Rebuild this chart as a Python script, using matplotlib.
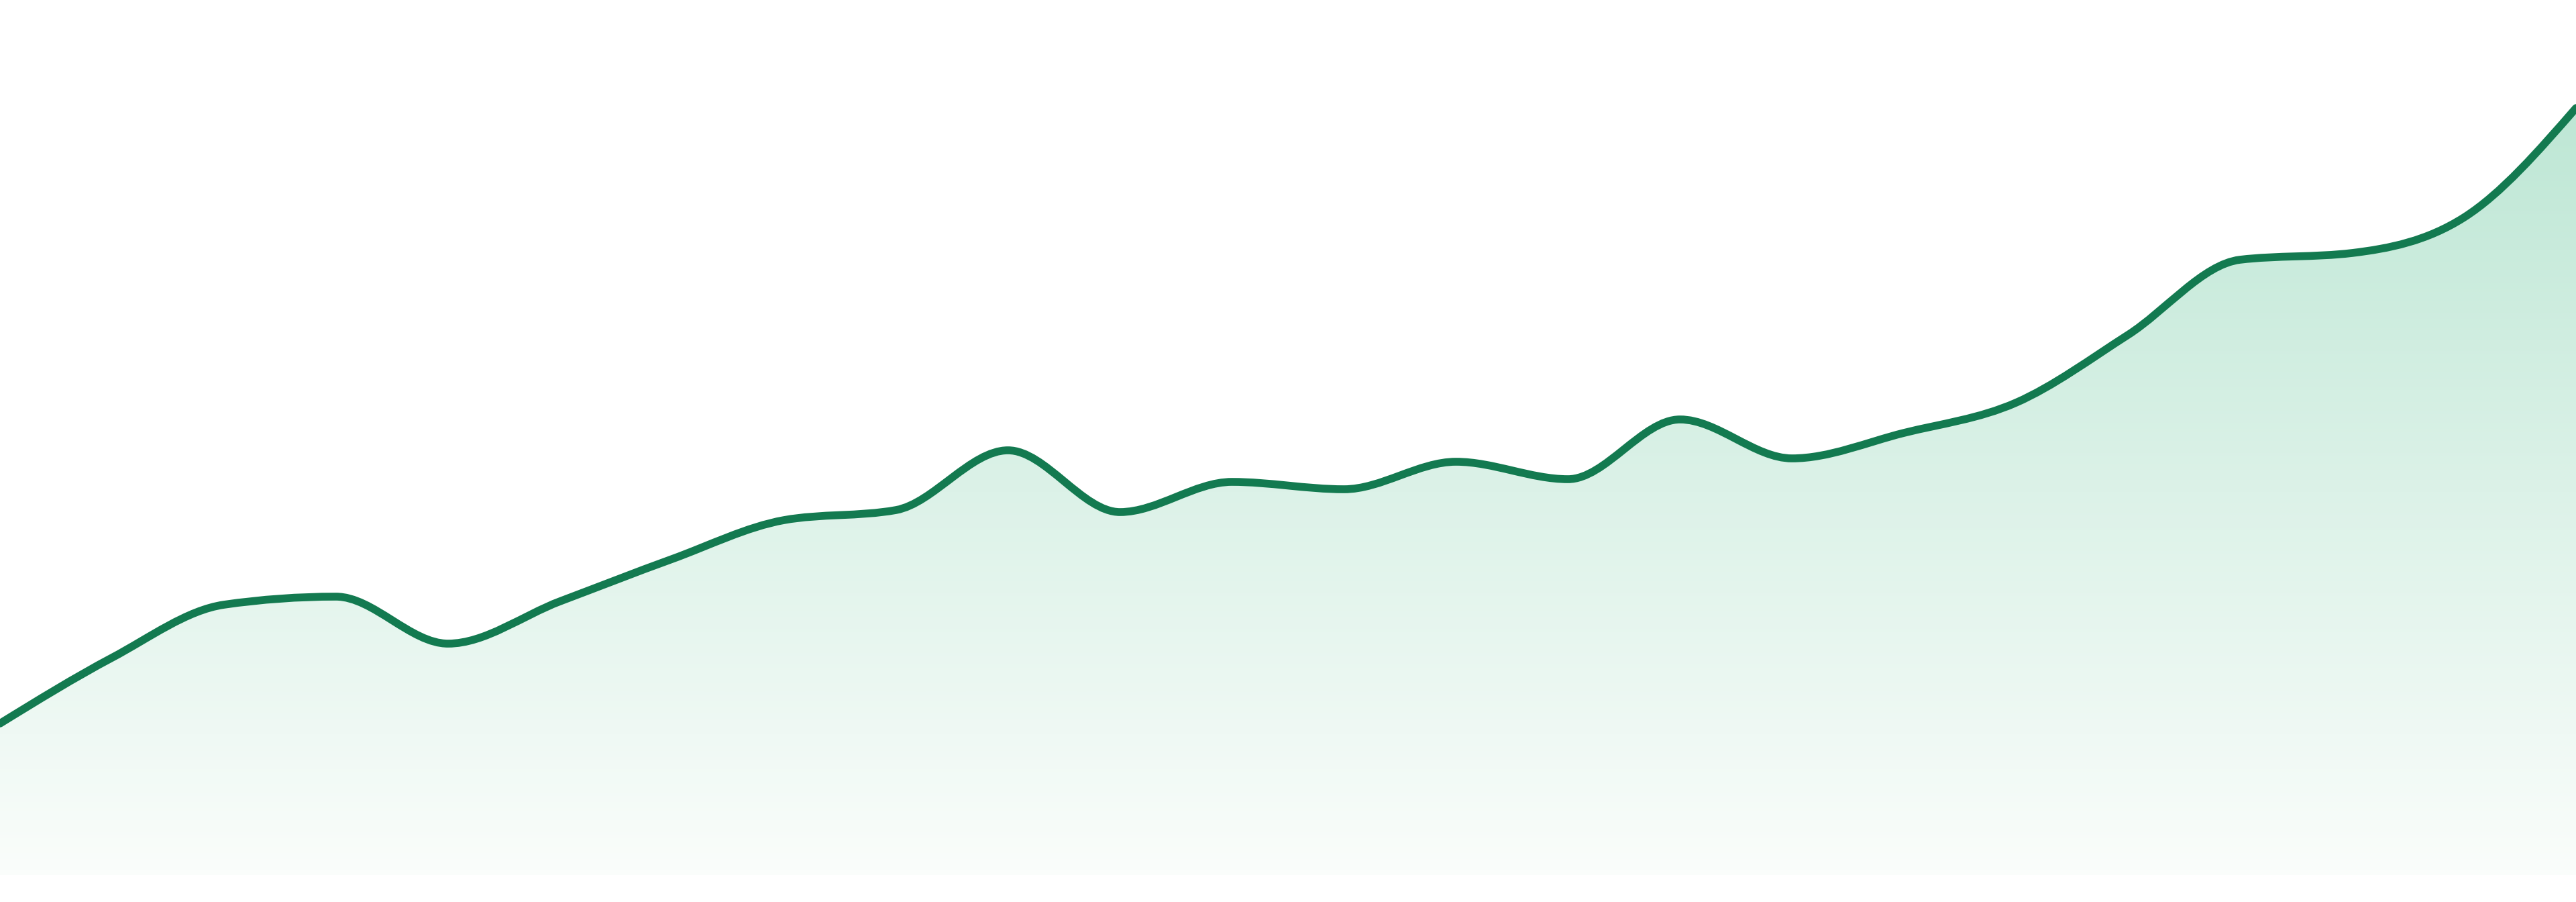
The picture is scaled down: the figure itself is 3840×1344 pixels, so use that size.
import numpy as np
import matplotlib
matplotlib.use("Agg")
from matplotlib import pyplot as plt
from matplotlib.path import Path
from matplotlib.patches import PathPatch
from matplotlib.colors import LinearSegmentedColormap

# values (one per step, 24 steps)
steps = list(range(24))
values = [226, 324, 403, 415, 345, 408, 471, 529, 544, 633, 541, 586,
          575, 616, 590, 679, 621, 659, 704, 805, 917, 927, 980, 1143]

line_color = "#137a50"
fill_top = "#bee7d5"
fill_bottom = "#fafdfb"


def monotone_path(x, y, close_to=None):
	# cubic bezier path like d3 curveMonotoneX
	x = np.asarray(x, float)
	y = np.asarray(y, float)
	n = len(x)
	h = np.diff(x)
	s = np.diff(y) / h
	t = np.zeros(n)
	for i in range(1, n - 1):
		p = (s[i - 1] * h[i] + s[i] * h[i - 1]) / (h[i - 1] + h[i])
		t[i] = (np.sign(s[i - 1]) + np.sign(s[i])) * min(abs(s[i - 1]), abs(s[i]), 0.5 * abs(p))
	t[0] = (3 * s[0] - t[1]) / 2
	t[-1] = (3 * s[-1] - t[-2]) / 2
	verts = [(x[0], y[0])]
	codes = [Path.MOVETO]
	for i in range(n - 1):
		dx = h[i] / 3
		verts += [(x[i] + dx, y[i] + dx * t[i]), (x[i + 1] - dx, y[i + 1] - dx * t[i + 1]), (x[i + 1], y[i + 1])]
		codes += [Path.CURVE4] * 3
	if close_to is not None:
		verts += [(x[-1], close_to), (x[0], close_to), (x[0], y[0])]
		codes += [Path.LINETO, Path.LINETO, Path.CLOSEPOLY]
	return Path(verts, codes)


fig = plt.figure(figsize=(38.4, 13.44), dpi=100)
ax = fig.add_axes([0, 40 / 1344, 1, 1304 / 1344])
ax.set_xlim(steps[0], steps[-1])
ax.set_ylim(0, 1304)
ax.axis("off")

# gradient fill under the curve
area = PathPatch(monotone_path(steps, values, close_to=0), facecolor="none", edgecolor="none")
ax.add_patch(area)
cmap = LinearSegmentedColormap.from_list("g", [fill_bottom, fill_top])
grad = np.linspace(0, 1, 256).reshape(-1, 1)
img = ax.imshow(grad, cmap=cmap, aspect="auto", origin="lower",
				extent=[steps[0], steps[-1], 0, max(values)], interpolation="bilinear")
img.set_clip_path(area)

line = PathPatch(monotone_path(steps, values), facecolor="none", edgecolor=line_color,
				 linewidth=8.4, capstyle="round", joinstyle="round")
ax.add_patch(line)

ax.set_xlim(steps[0], steps[-1])
ax.set_ylim(0, 1304)

fig.savefig("out.png", dpi=100, facecolor="white")
